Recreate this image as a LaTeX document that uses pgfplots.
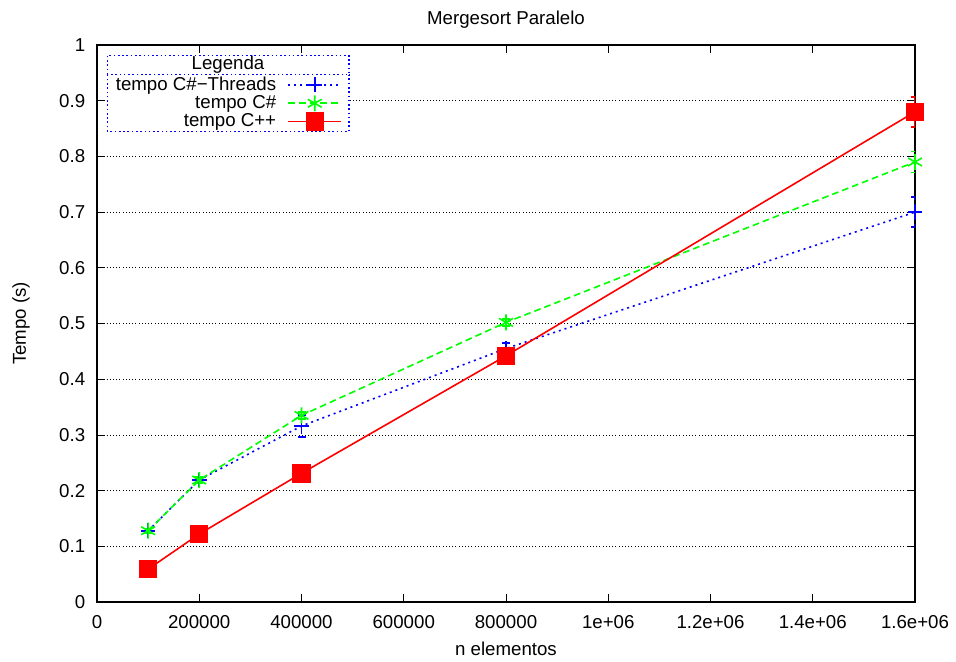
\documentclass[border=0pt]{standalone}
\usepackage{fontspec}
\setmainfont{Liberation Sans}
\usepackage{pgfplots}
\pgfplotsset{compat=1.18}
\usetikzlibrary{calc}
\begin{document}
\fontsize{14}{16.8}\selectfont
\begin{tikzpicture}
\begin{axis}[
  scale only axis, width=613.5pt, height=417.75pt,
  xmin=0, xmax=1600000, ymin=0, ymax=1,
  xtick={0,200000,400000,600000,800000,1000000,1200000,1400000,1600000},
  xticklabels={0,200000,400000,600000,800000,1e+06,1.2e+06,1.4e+06,1.6e+06},
  ytick={0,0.1,0.2,0.3,0.4,0.5,0.6,0.7,0.8,0.9,1},
  yticklabels={0,0.1,0.2,0.3,0.4,0.5,0.6,0.7,0.8,0.9,1},
  scaled x ticks=false,
  /pgf/number format/assume math mode=true,
  tick align=inside, major tick length=6pt,
  ymajorgrids, grid style={black, dotted, line width=0.6pt},
  axis line style={line width=0.8pt},
  tick style={black, line width=0.6pt},
  xticklabel style={yshift=-5pt},
  yticklabel style={xshift=-4pt},
  title={Mergesort Paralelo},
  title style={at={(0.5,1)}, anchor=base, yshift=9pt},
  xlabel={n elementos},
  xlabel style={at={(0.5,0)}, anchor=base, yshift=-39.75pt},
  ylabel={Tempo (s)},
  ylabel style={at={(0,0.5)}, anchor=center, yshift=57pt},
  legend style={name=leg, at={(rel axis cs:0.0123,0.947)}, anchor=north west,
    draw=none, fill=white, inner xsep=5pt, inner ysep=0.5pt, row sep=0pt, column sep=7pt,
    nodes={inner xsep=1.4pt, inner ysep=0.9pt}},
  legend cell align=right,
  legend plot pos=right,
  legend image code/.code={\draw[mark repeat=2,mark phase=2] plot coordinates {(0cm,0cm) (0.7cm,0cm) (1.4cm,0cm)};},
]
\addplot[blue, line width=1.2pt, dash pattern=on 1.5pt off 3pt, mark=+, mark size=5.5pt, mark options={solid, line width=1.2pt},
  error bars/.cd, y dir=both, y explicit,
  error bar style={line width=1.2pt, dash pattern=on 1.5pt off 3pt},
  error mark options={rotate=90, mark size=3pt, line width=1.2pt}]
  coordinates {
  (100000,0.128) +- (0,0.004)
  (200000,0.219) +- (0,0.005)
  (400000,0.316) +- (0,0.02)
  (800000,0.455) +- (0,0.01)
  (1600000,0.700) +- (0,0.027)
  };
\addlegendentry{tempo C\#−Threads}
\addplot[green, line width=1.2pt, dash pattern=on 5pt off 3pt, mark=asterisk, mark size=6pt, mark options={solid, line width=1.2pt},
  error bars/.cd, y dir=both, y explicit,
  error bar style={line width=1.2pt, dash pattern=on 5pt off 3pt},
  error mark options={rotate=90, mark size=3pt, line width=1.2pt}]
  coordinates {
  (100000,0.128) +- (0,0.004)
  (200000,0.219) +- (0,0.005)
  (400000,0.335) +- (0,0.006)
  (800000,0.502) +- (0,0.006)
  (1600000,0.790) +- (0,0.019)
  };
\addlegendentry{tempo C\#}
\addplot[red, line width=1.2pt, solid, mark=square*, mark size=6.3pt, mark options={solid},
  error bars/.cd, y dir=both, y explicit,
  error bar style={line width=1.2pt},
  error mark options={rotate=90, mark size=3pt, line width=1.2pt}]
  coordinates {
  (100000,0.059) +- (0,0.004)
  (200000,0.122) +- (0,0.004)
  (400000,0.231) +- (0,0.005)
  (800000,0.442) +- (0,0.006)
  (1600000,0.880) +- (0,0.027)
  };
\addlegendentry{tempo C++}
\end{axis}
\draw[blue, dash pattern=on 1.2pt off 2pt, line width=0.8pt] (leg.south west) rectangle (leg.north east);
\filldraw[fill=white, draw=blue, dash pattern=on 1.2pt off 2pt, line width=0.8pt] (leg.north west) rectangle ($(leg.north east)+(0,14.25pt)$);
\node[inner sep=0pt] at ($(leg.north)+(0,7.1pt)$) {Legenda};
\pgfresetboundingbox
\path ($(current axis.south west)+(-72.75pt,-44.25pt)$) rectangle ($(current axis.north east)+(30.75pt,33.75pt)$);
\end{tikzpicture}
\end{document}
